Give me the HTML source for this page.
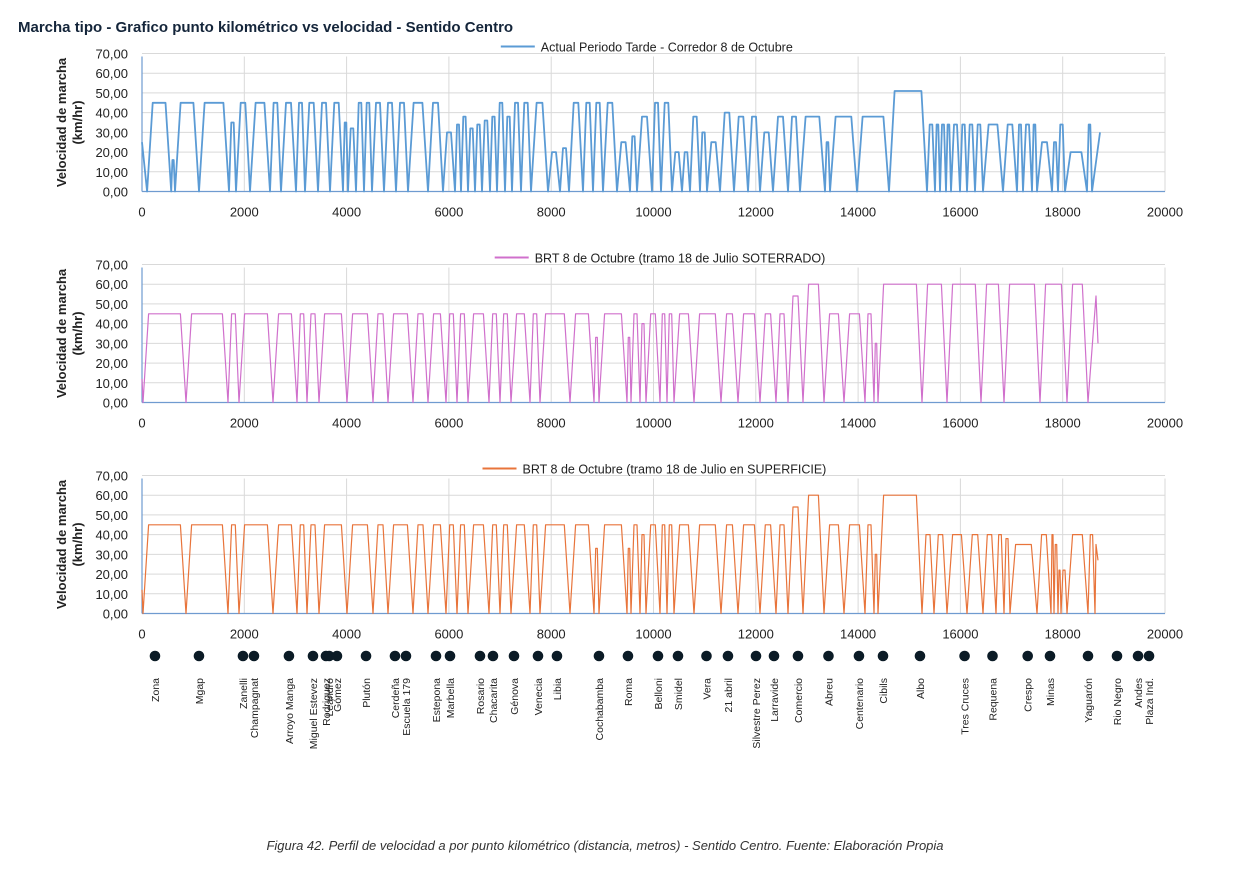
<!DOCTYPE html>
<html><head><meta charset="utf-8"><style>
body{margin:0;background:#fff;width:1258px;height:875px;overflow:hidden;font-family:"Liberation Sans",sans-serif}
svg text{font-family:"Liberation Sans",sans-serif}
</style></head><body>
<svg id="svg" width="1258" height="875" xmlns="http://www.w3.org/2000/svg">
<text x="18" y="32" font-size="15" font-weight="bold" fill="#14253a">Marcha tipo - Grafico punto kilométrico vs velocidad - Sentido Centro</text>
<text x="605" y="850" font-size="13" font-style="italic" fill="#333" text-anchor="middle">Figura 42. Perfil de velocidad a por punto kilométrico (distancia, metros) - Sentido Centro. Fuente: Elaboración Propia</text>
</svg>
<script>
// ---- data ----
const xTicks=[0,2000,4000,6000,8000,10000,12000,14000,16000,18000,20000];
const yTicks=[0,10,20,30,40,50,60,70];
const yTickLabels=["0,00","10,00","20,00","30,00","40,00","50,00","60,00","70,00"];
const s1Name="Actual Periodo Tarde - Corredor 8 de Octubre";
const s1StartSpeed=25;
const s1Stops=[100,570,645,1114,1701,1838,2111,2502,2717,3011,3187,3441,3675,3930,4027,4184,4340,4497,4731,4966,5200,5591,5885,6119,6236,6373,6510,6647,6803,6940,7097,7234,7409,7605,7937,8172,8348,8622,8817,9013,9286,9540,9677,9971,10146,10362,10557,10713,10909,11046,11300,11574,11847,12082,12336,12629,12864,13352,13450,13978,14604,15347,15503,15601,15718,15816,15992,16129,16285,16442,16833,17106,17224,17399,17497,17791,17908,18045,18475,18573];
const s1Speeds=[45,16,45,45,35,45,45,45,45,45,45,45,45,35,32,45,45,45,45,45,45,45,30,34,38,32,34,36,38,45,38,45,45,45,20,22,45,45,45,45,25,28,38,45,45,20,20,38,30,25,40,38,38,30,38,38,38,25,38,38,51,34,34,34,34,34,34,34,34,34,34,34,34,34,25,25,34,20,34];
const s1TailPos=[18729];
const s1TailSpeed=[30];

const s2Name="BRT 8 de Octubre (tramo 18 de Julio SOTERRADO)";
const s2StartSpeed=12;
const s2Stops=[20,860,1681,1896,2561,3030,3226,3460,4008,4516,4809,5298,5591,5943,6158,6373,6784,6999,7214,7585,7781,8367,8837,8934,9482,9560,9736,9853,10127,10264,10401,10792,11319,11652,12082,12394,12629,12922,13333,13724,14135,14311,14389,15249,15738,16402,16852,17556,18084,18494];
const s2Speeds=[45,45,45,45,45,45,45,45,45,45,45,45,45,45,45,45,45,45,45,45,45,45,33,45,33,45,40,45,45,45,45,45,45,45,45,45,54,60,45,45,45,30,60,60,60,60,60,60,60];
const s2TailPos=[18651,18690];
const s2TailSpeed=[54,30];

const s3Name="BRT 8 de Octubre (tramo 18 de Julio en SUPERFICIE)";
const s3StartSpeed=12;
const s3Stops=[20,860,1681,1896,2561,3030,3226,3460,4008,4516,4809,5298,5591,5943,6158,6373,6784,6999,7214,7585,7781,8367,8837,8934,9482,9560,9736,9853,10127,10264,10401,10792,11319,11652,12082,12394,12629,12922,13333,13724,14135,14311,14389,15249,15484,15738,16129,16442,16696,16852,16969,17497,17771,17830,17908,17966,18084,18494,18631];
const s3Speeds=[45,45,45,45,45,45,45,45,45,45,45,45,45,45,45,45,45,45,45,45,45,45,33,45,33,45,40,45,45,45,45,45,45,45,45,45,54,60,45,45,45,30,60,40,40,40,40,40,40,38,35,40,40,35,22,22,40,40,35];
const s3TailPos=[18690];
const s3TailSpeed=[27];

const stationNames=["Zona","Mgap","Zanelli","Champagnat","Arroyo Manga","Miguel Estevez","Rodriguez","Leandro","Gómez","Plutón","Cerdeña","Escuela 179","Estepona","Marbella","Rosario","Chacarita","Génova","Venecia","Libia","Cochabamba","Roma","Belloni","Smidel","Vera","21 abril","Silvestre Perez","Larravide","Comercio","Abreu","Centenario","Cibils","Albo","Tres Cruces","Requena","Crespo","Minas","Yaguarón","Rio Negro","Andes","Plaza Ind."];
const stationKm=[254,1114,1974,2189,2873,3343,3597,3660,3812,4380,4946,5161,5748,6022,6608,6862,7273,7742,8113,8934,9501,10088,10479,11036,11456,12004,12356,12825,13421,14017,14487,15210,16082,16628,17316,17752,18495,19062,19473,19688];

// ---- drawing ----
const NS="http://www.w3.org/2000/svg";
const svg=document.getElementById('svg');
const X0=142,X1=1165;
function sx(v){return X0+(v/20000)*(X1-X0);}
function mk(tag,attrs,parent){const e=document.createElementNS(NS,tag);for(const k in attrs)e.setAttribute(k,attrs[k]);(parent||svg).appendChild(e);return e;}

function drawChart(idx,top0,name,color,startSpeed,stops,speeds,tailPos,tailSpeed){
  const y0=top0, y70=top0-138;
  const sy=v=>y0-(v/70)*(y0-y70);
  const g=mk('g',{});
  
  
  yTicks.forEach((t,i)=>{
    if(t>0){const l=mk('line',{x1:X0,x2:X1,y1:sy(t),y2:sy(t),stroke:'#d9d9d9','stroke-width':1},g);
      }
    const tx=mk('text',{x:128,y:sy(t)+5,'font-size':13,'text-anchor':'end',fill:'#222'},g);
    tx.textContent=yTickLabels[i];
    
  });
  xTicks.forEach(t=>{
    if(t>0){const l=mk('line',{x1:sx(t),x2:sx(t),y1:y70+3,y2:y0,stroke:'#d9d9d9','stroke-width':1},g);
      }
    const tx=mk('text',{x:sx(t),y:y0+25,'font-size':13,'text-anchor':'middle',fill:'#222'},g);
    tx.textContent=String(t);
    
  });
  const ax=mk('line',{x1:X0,x2:X0,y1:y70+3,y2:y0,stroke:'#6f9bd0','stroke-width':1.2},g);
  
  const bx=mk('line',{x1:X0,x2:X1,y1:y0,y2:y0,stroke:'#6f9bd0','stroke-width':1.2},g);
  
  const yt=mk('text',{transform:`translate(66,${(y0+y70)/2}) rotate(-90)`,'font-size':13,'font-weight':'bold','text-anchor':'middle',fill:'#222'},g);
  yt.textContent='Velocidad de marcha';
  
  const yt2=mk('text',{transform:`translate(82,${(y0+y70)/2}) rotate(-90)`,'font-size':13,'font-weight':'bold','text-anchor':'middle',fill:'#222'},g);
  yt2.textContent='(km/hr)';
  
  const lw=name.length*6.1;const lx=655-(lw+40)/2;
  const ll=mk('line',{x1:lx,x2:lx+34,y1:y70-7,y2:y70-7,stroke:color,'stroke-width':2},g);
  
  const lt=mk('text',{x:lx+40,y:y70-2,'font-size':12.5,fill:'#222'},g);
  lt.textContent=name;
  
  const pts=[[0,startSpeed]];
  for(let i=0;i<stops.length;i++){
    pts.push([stops[i],0]);
    if(i<speeds.length){
      const nxt=(i+1<stops.length)?stops[i+1]:(tailPos.length?tailPos[tailPos.length-1]:stops[i]+200);
      const r=Math.min(110,(nxt-stops[i])/3);
      pts.push([stops[i]+r,speeds[i]]);
      if(i+1<stops.length)pts.push([nxt-r,speeds[i]]);
    }
  }
  tailPos.forEach((p,i)=>pts.push([p,tailSpeed[i]]));
  const d=pts.map((p,i)=>(i?'L':'M')+sx(p[0]).toFixed(1)+' '+sy(p[1]).toFixed(1)).join(' ');
  const path=mk('path',{d:d,fill:'none',stroke:color,'stroke-width':idx==1?1.8:1.2,'stroke-linejoin':'round'},g);
  
  
}
drawChart(1,191.5,s1Name,'#5b9bd5',s1StartSpeed,s1Stops,s1Speeds,s1TailPos,s1TailSpeed);
drawChart(2,402.5,s2Name,'#d070cc',s2StartSpeed,s2Stops,s2Speeds,s2TailPos,s2TailSpeed);
drawChart(3,613.5,s3Name,'#e8743b',s3StartSpeed,s3Stops,s3Speeds,s3TailPos,s3TailSpeed);

const sg=mk('g',{});


stationNames.forEach((n,i)=>{
  const x=sx(stationKm[i]);
  const c=mk('circle',{cx:x,cy:656,r:5.3,fill:'#0b1b26'},sg);
  
  
  const t=mk('text',{transform:`translate(${x+4},678) rotate(-90)`,'font-size':10.5,'text-anchor':'end',fill:'#222'},sg);
  t.textContent=n;
  
  
});
</script>
</body></html>
